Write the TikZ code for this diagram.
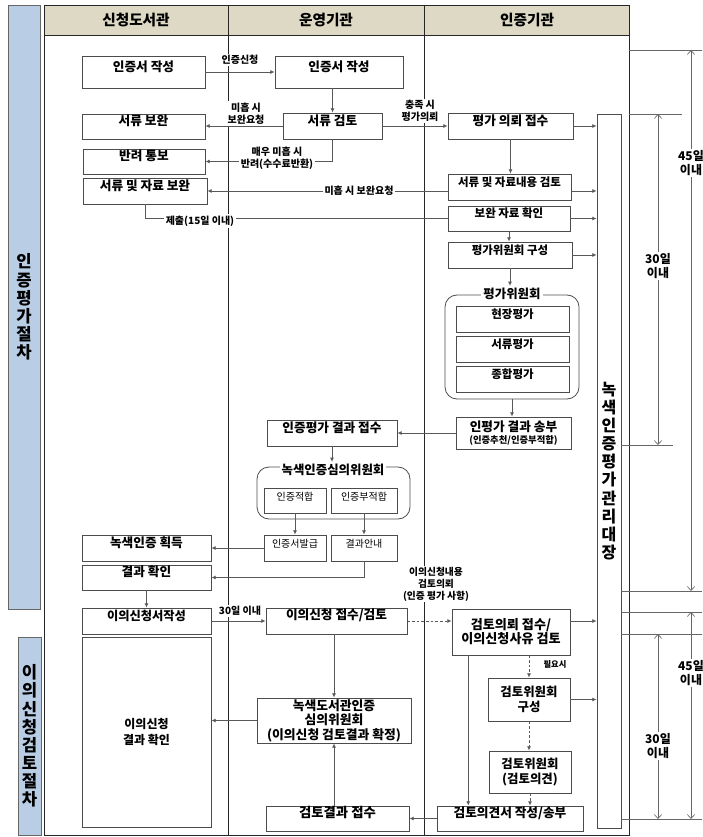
\documentclass[tikz,border=0pt]{standalone}
\usepackage{fontspec}
\setmainfont{Noto Sans CJK KR}
\usetikzlibrary{arrows.meta,fit,calc}
\definecolor{hdr}{HTML}{DDD9C4}
\definecolor{barc}{HTML}{B9CDE5}
\newcommand\fsz[2]{\fontsize{#1}{#2}\selectfont}
\begin{document}
\begin{tikzpicture}[x=0.75pt,y=-0.75pt,
  bx/.style={draw=black!70, line width=0.6pt, inner sep=0pt, fill=white, align=center, font=\bfseries\fsz{9.5}{11}},
  sbx/.style={draw=black!70, line width=0.6pt, inner sep=0pt, fill=white, align=center, font=\fsz{7.5}{9}},
  bt/.style={inner sep=0pt, align=center, font=\bfseries\fsz{9.5}{11}},
  grp/.style={draw=black!70, line width=0.6pt, inner sep=0pt, rounded corners=9pt},
  glbl/.style={fill=white, inner sep=1.5pt, font=\bfseries\fsz{9.3}{11}},
  arr/.style={draw=black!65, line width=0.6pt, -{Latex[length=3.2pt,width=3pt]}},
  darr/.style={arr, dashed, dash pattern=on 2pt off 1.5pt},
  ln/.style={draw=black!65, line width=0.6pt},
  lbl/.style={fill=white, inner sep=1pt, align=center, font=\bfseries\fsz{7.5}{9}},
  tl/.style={draw=black!60, line width=0.5pt},
  tarr/.style={draw=black!60, line width=0.5pt, {Straight Barb[length=3pt,width=5.5pt]}-{Straight Barb[length=3pt,width=5.5pt]}},
  tlbl/.style={fill=white, inner sep=1pt, align=center, font=\bfseries\fsz{9}{10.5}},
  frm/.style={draw=black!85, line width=0.7pt},
  barbox/.style={draw=black!60, line width=0.6pt, fill=barc, inner sep=0pt},
  bartxt/.style={inner sep=0pt, align=center, font=\bfseries\fsz{12.5}{13.6}}
]
\useasboundingbox (0,0) rectangle (702,837);
% frame and header
\fill[hdr] (44,5) rectangle (629,35);
\draw[frm] (44,5) rectangle (629,835);
\draw[frm] (44,35) -- (629,35);
\draw[frm] (228,5) -- (228,835);
\draw[frm] (424,5) -- (424,835);
\node[font=\bfseries\fsz{11}{13}] (h1t) at (136,20) {신청도서관};
\node[font=\bfseries\fsz{11}{13}] (h2t) at (326,20) {운영기관};
\node[font=\bfseries\fsz{11}{13}] (h3t) at (527,20) {인증기관};
% side bars
\node[barbox, fit={(8,5)(40,609)}] (p1) {};
\node[bartxt] (p1t) at (p1.center) {인\\증\\평\\가\\절\\차};
\node[barbox, fit={(18,637)(41,835)}] (p2) {};
\node[bartxt] (p2t) at (p2.center) {이\\의\\신\\청\\검\\토\\절\\차};
% column 1
\node[bx, fit={(82,56)(205,88)}] (a1) {인증서 작성};
\node[bx, fit={(82,114)(205,139)}] (a2) {서류 보완};
\node[bx, fit={(83,149)(205,174)}] (a3) {반려 통보};
\node[bx, fit={(83,178)(207,204)}] (a4) {서류 및 자료 보완};
\node[bx, fit={(82,535)(211,561)}] (a5) {녹색인증 획득};
\node[bx, fit={(82,565)(211,590)}] (a6) {결과 확인};
\node[bx, fit={(82,608)(211,634)}, font=\bfseries\fsz{9.2}{11}] (a7) {이의신청서작성};
\node[bx, fit={(82,637)(211,827)}] (a8) {};
\node[bt, font=\bfseries\fsz{9}{12}] (a8t) at (a8.center) {이의신청\\결과 확인};
% column 2
\node[bx, fit={(275,56)(403,88)}] (b1) {인증서 작성};
\node[bx, fit={(283,113)(382,139)}] (c2) {서류 검토};
\node[bx, fit={(267,420)(397,446)}] (b2) {인증평가 결과 접수};
\node[grp, fit={(257,467)(410,519)}] (g2) {};
\node[glbl] (g2l) at (333,470) {녹색인증심의위원회};
\node[sbx, fit={(264,488)(326,513)}] (e1) {인증적합};
\node[sbx, fit={(331,488)(397,513)}] (e2) {인증부적합};
\node[sbx, fit={(264,535)(326,561)}] (f1) {인증서발급};
\node[sbx, fit={(331,535)(397,561)}] (f2) {결과안내};
\node[bx, fit={(266,608)(407,634)}] (b3) {이의신청 접수/검토};
\node[bx, fit={(257,698)(411,743)}] (b4) {};
\node[bt, font=\bfseries\fsz{9.6}{10.9}] (b4t) at (b4.center) {녹색도서관인증\\심의위원회\\(이의신청 검토결과 확정)};
\node[bx, fit={(266,806)(409,831)}, font=\bfseries\fsz{10}{12}] (b5) {검토결과 접수};
% column 3
\node[bx, fit={(448,113)(573,139)}] (d1) {평가 의뢰 접수};
\node[bx, fit={(448,174)(571,200)}, font=\bfseries\fsz{8.6}{10}] (d2) {서류 및 자료내용 검토};
\node[bx, fit={(448,206)(570,231)}, font=\bfseries\fsz{8.6}{10}] (d3) {보완 자료 확인};
\node[bx, fit={(448,242)(572,268)}, font=\bfseries\fsz{8.6}{10}] (d4) {평가위원회 구성};
\node[grp, fit={(445,295)(579,399)}] (g1) {};
\node[glbl] (g1l) at (512,294) {평가위원회};
\node[bx, fit={(456,306)(569,332)}, font=\bfseries\fsz{8.6}{10}] (k1) {현장평가};
\node[bx, fit={(456,336)(569,362)}, font=\bfseries\fsz{8.6}{10}] (k2) {서류평가};
\node[bx, fit={(456,366)(569,392)}, font=\bfseries\fsz{8.6}{10}] (k3) {종합평가};
\node[bx, fit={(456,417)(571,449)}] (d5) {};
\node[bt, font=\bfseries\fsz{9.5}{11}] (d5t) at (d5.center) {인평가 결과 송부\\[-1.5pt]{\fsz{7}{8}(인증추천/인증부적합)}};
\node[bx, fit={(452,609)(570,655)}] (q1) {};
\node[bt, font=\bfseries\fsz{9.8}{10.6}] (q1t) at (q1.center) {검토의뢰 접수/\\이의신청사유 검토};
\node[bx, fit={(488,678)(570,721)}] (q2) {};
\node[bt, font=\bfseries\fsz{9.3}{11.2}] (q2t) at (q2.center) {검토위원회\\구성};
\node[bx, fit={(489,751)(571,793)}] (q3) {};
\node[bt, font=\bfseries\fsz{9.3}{11.2}] (q3t) at (q3.center) {검토위원회\\(검토의견)};
\node[bx, fit={(437,806)(583,831)}] (q4) {검토의견서 작성/송부};
% register
\node[draw=black!70, line width=0.6pt, inner sep=0pt, fit={(597,114)(621,828)}] (reg) {};
\node[align=center, font=\bfseries\fsz{12}{13.6}] (regt) at (reg.center) {녹\\색\\인\\증\\평\\가\\관\\리\\대\\장};
% connectors
\draw[arr] (a1) -- (b1);
\draw[arr] (c2.north |- b1.south) -- (c2.north);
\draw[arr] (c2.west) -- (c2.west -| a2.east);
\draw[arr] (c2.south) |- (a3.east);
\draw[arr] (a4.east -| d2.west) -- (a4.east);
\draw[ln] (a4.south) |- (d3.west);
\draw[arr] (c2.east) -- (c2.east -| d1.west);
\draw[arr] (d1.south) -- (d1.south |- d2.north);
\draw[arr] (d3.south) -- (d3.south |- d4.north);
\draw[arr] (d4.south) -- (d4.south |- g1l.north);
\draw[arr] (g1.south) -- (g1.south |- d5.north);
\draw[arr] (d5.west) -- (d5.west -| b2.east);
\draw[arr] (b2.south) -- (b2.south |- g2l.north);
\draw[arr] (e1.south) -- (e1.south |- f1.north);
\draw[arr] (e2.south) -- (e2.south |- f2.north);
\draw[arr] (f1.west) -- (f1.west -| a5.east);
\draw[arr] (f2.south) |- (a6.east);
\draw[arr] (a6.south) -- (a6.south |- a7.north);
\draw[arr] (a7.east) -- (a7.east -| b3.west);
\draw[darr] (b3.east) -- (b3.east -| q1.west);
\draw[arr] (b4.north |- b3.south) -- (b4.north);
\draw[arr] (b4.west) -- (b4.west -| a8.east);
\draw[arr] (b4.south |- b5.north) -- (b4.south);
\draw[arr] (q4.west) -- (q4.west -| b5.east);
\draw[darr] (q2.north |- q1.south) -- (q2.north);
\draw[darr] (q2.south) -- (q2.south |- q3.north);
\draw[darr] (q3.south) -- (q3.south |- q4.north);
\coordinate (q1s) at ($(q1.south west)!0.14!(q1.south east)$);
\draw[arr] (q1s) -- (q1s |- q4.north);
% to register
\draw[arr] (d1.east) -- (d1.east -| reg.west);
\draw[arr] (a4.east -| d2.east) -- (a4.east -| reg.west);
\draw[arr] (d3.east) -- (d3.east -| reg.west);
\draw[arr] (d4.east) -- (d4.east -| reg.west);
\draw[arr] (b3.east -| q1.east) -- (b3.east -| reg.west);
\draw[arr] (q2.east) -- (q2.east -| reg.west);
% labels
\node[lbl] (l1) at (240,60) {인증신청};
\node[lbl] (l2) at (246,113.5) {미흡 시\\보완요청};
\node[lbl] (l3) at (277,158.5) {매우 미흡 시\\반려(수수료반환)};
\node[lbl] (l4) at (359,190.5) {미흡 시 보완요청};
\node[lbl] (l5) at (200,221) {제출(15일 이내)};
\node[lbl] (l6) at (420,111) {충족 시\\평가의뢰};
\node[lbl] (l7) at (240,611) {30일 이내};
\node[lbl, font=\bfseries\fsz{7.3}{9}] (l8) at (436,584) {이의신청내용\\검토의뢰\\(인증 평가 사항)};
\node[lbl, font=\bfseries\fsz{6.2}{7}] (l9) at (555,664) {필요시};
% timeline
\draw[tl] (629,50) -- (702,50);
\draw[tl] (629,114) -- (682,114);
\draw[tarr] (691,50) -- (691,591);
\draw[tarr] (658,114) -- (658,445);
\draw[tl] (621,445) -- (673,445);
\draw[tl] (621,591) -- (702,591);
\draw[tl] (621,612) -- (702,612);
\draw[tl] (621,634) -- (702,634);
\draw[tarr] (691,612) -- (691,819);
\draw[tarr] (658,634) -- (658,819);
\draw[tl] (621,819) -- (702,819);
\node[tlbl] (t1) at (691,163) {45일\\이내};
\node[tlbl] (t2) at (658,266) {30일\\이내};
\node[tlbl] (t3) at (691,673) {45일\\이내};
\node[tlbl] (t4) at (658,746) {30일\\이내};
\end{tikzpicture}
\end{document}
